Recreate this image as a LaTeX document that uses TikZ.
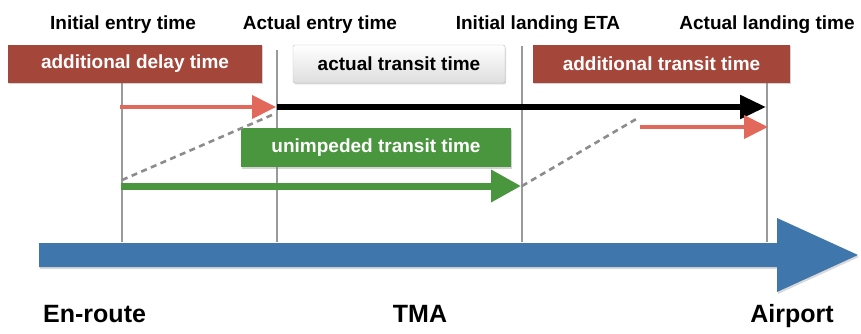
\documentclass[tikz,border=0pt]{standalone}
\usepackage{fontspec}
\setmainfont{Liberation Sans}
\usetikzlibrary{arrows.meta,shadows}
\definecolor{boxred}{HTML}{A5463A}
\definecolor{boxgreen}{HTML}{4A963F}
\definecolor{axisblue}{HTML}{3F77AC}
\definecolor{salmon}{HTML}{E2685B}
\definecolor{vgray}{HTML}{9A9A9A}
\begin{document}
\begin{tikzpicture}[x=1pt,y=-1pt,
  lbl/.style={font=\fontsize{19}{22}\selectfont\bfseries, inner sep=0pt, anchor=base},
  big/.style={font=\fontsize{25}{28}\selectfont\bfseries, inner sep=0pt, anchor=base},
  colbox/.style={minimum height=38pt, inner sep=0pt, text=white,
    font=\fontsize{19}{22}\selectfont\bfseries,
    drop shadow={opacity=0.35, shadow xshift=1pt, shadow yshift=-1.5pt}},
  graybox/.style={minimum height=38pt, inner sep=0pt, top color=white, bottom color=black!13,
    draw=black!25, rounded corners=1.5pt, font=\fontsize{19}{22}\selectfont\bfseries,
    drop shadow={opacity=0.3, shadow xshift=1pt, shadow yshift=-1.5pt}},
  vline/.style={draw=vgray, line width=1.6pt},
  dashline/.style={draw=black!45, line width=2.6pt, dash pattern=on 6pt off 4.5pt},
  redarrow/.style={draw=salmon, line width=4pt, -{Triangle[length=24pt,width=23pt]}},
  blackarrow/.style={draw=black, line width=5.5pt, -{Triangle[length=26pt,width=23pt]}},
  greenarrow/.style={draw=boxgreen, line width=7pt, -{Triangle[length=30pt,width=31pt]}},
]
\useasboundingbox (0,0) rectangle (861,334);

% time labels
\node[lbl] (l1) at (123,30) {Initial entry time};
\node[lbl] (l2) at (320,30) {Actual entry time};
\node[lbl] (l3) at (538,30) {Initial landing ETA};
\node[lbl] (l4) at (767,30) {Actual landing time};

% vertical time lines
\coordinate (v1t) at (122,83);  \coordinate (v1b) at (122,242);
\coordinate (v2t) at (277,50);  \coordinate (v2b) at (277,242);
\coordinate (v3t) at (522,46);  \coordinate (v3b) at (522,242);
\coordinate (v4t) at (767,83);  \coordinate (v4b) at (767,242);
\draw[vline] (v1t) -- (v1b);
\draw[vline] (v2t) -- (v2b);
\draw[vline] (v3t) -- (v3b);
\draw[vline] (v4t) -- (v4b);

% boxes
\node[colbox, fill=boxred, minimum width=254pt] (bdelay) at (135,64) {\raisebox{0pt}{additional delay time}};
\node[graybox, minimum width=212pt] (btransit) at (399,64) {actual transit time};
\node[colbox, fill=boxred, minimum width=257pt] (badd) at (661.5,64) {additional transit time};
\node[colbox, fill=boxgreen, minimum width=270pt, minimum height=39pt] (bunimp) at (376,147.5) {unimpeded transit time};

% dashed links
\coordinate (d1s) at (122,180); \coordinate (d1e) at (272,115);
\coordinate (d2s) at (522,186); \coordinate (d2e) at (638,118);
\draw[dashline] (d1s) -- (d1e);
\draw[dashline] (d2s) -- (d2e);

% arrows
\coordinate (r1s) at (120,107); \coordinate (r1e) at (276,107);
\coordinate (ks) at (277,107);  \coordinate (ke) at (766,107);
\coordinate (gs) at (121,186);  \coordinate (ge) at (521,186);
\coordinate (r2s) at (640,127); \coordinate (r2e) at (768,127);
\draw[blackarrow] (ks) -- (ke);
\draw[redarrow] (r1s) -- (r1e);
\draw[greenarrow] (gs) -- (ge);
\draw[redarrow] (r2s) -- (r2e);

% axis arrow
\fill[axisblue, drop shadow={opacity=0.3, shadow xshift=1pt, shadow yshift=-2pt}]
  (39,243) -- (777,243) -- (777,218) -- (858,255) -- (777,292) -- (777,267) -- (39,267) -- cycle;

% region labels
\node[big, anchor=base west] (en) at (43,322) {En-route};
\node[big] (tma) at (420,322) {TMA};
\node[big] (ap) at (792,322) {Airport};
\end{tikzpicture}
\end{document}
